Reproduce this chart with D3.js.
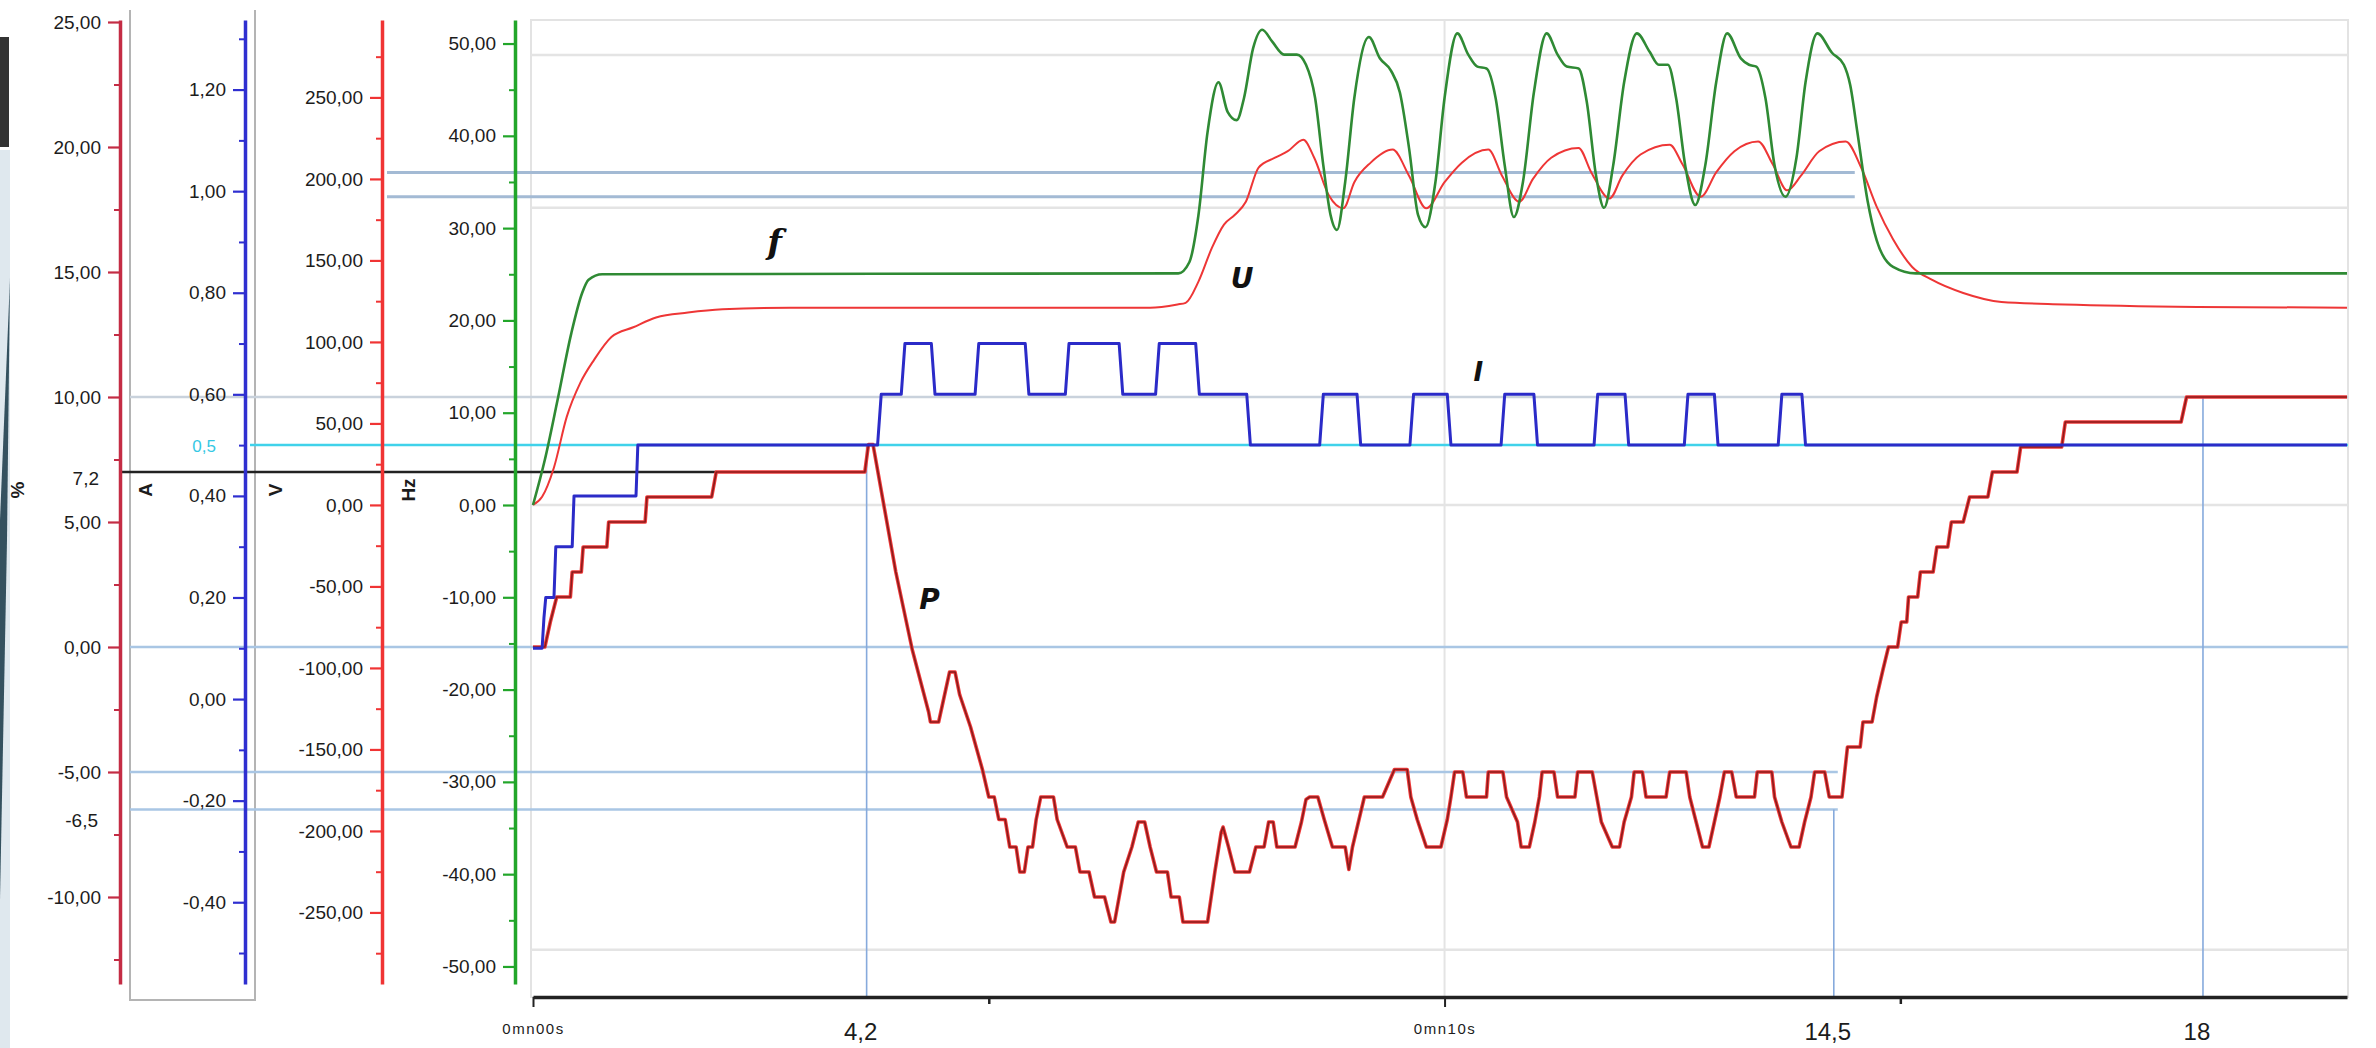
<!DOCTYPE html>
<html>
<head>
<meta charset="utf-8">
<script src="https://cdn.jsdelivr.net/npm/d3@7"></script>
<style>
  body { margin: 0; background: #fff; }
  svg { display: block; font-family: "Liberation Sans", Arial, sans-serif; }
</style>
</head>
<body>
<div id="chart-area"></div>
<script>
// ---- DATA ----
const kwTicks = [25, 20, 15, 10, 5, 0, -5, -10];
const ampTicks = [1.2, 1.0, 0.8, 0.6, 0.4, 0.2, 0, -0.2, -0.4];
const voltTicks = [250, 200, 150, 100, 50, 0, -50, -100, -150, -200, -250];
const hzTicks = [50, 40, 30, 20, 10, 0, -10, -20, -30, -40, -50];
const timeTicks = [0, 10];
const timeTickLabels = ["0mn00s", "0mn10s"];
const timeMinorTicks = [5, 15];

// f (Hz) - [time s, value]
const fSeries = [[0,0],[0.13,4.9],[0.27,11.4],[0.42,18.6],[0.54,23],[0.61,24.4],[0.76,25.0],[7.08,25.1],[7.2,26.3],[7.3,31.4],[7.4,40.4],[7.52,45.8],[7.62,42.6],[7.72,41.7],[7.8,44.1],[7.9,49.5],[8.0,51.5],[8.11,50.2],[8.24,48.8],[8.38,48.8],[8.48,47.7],[8.58,44.1],[8.67,36.8],[8.75,31.4],[8.82,29.8],[8.91,35],[9.01,44.1],[9.17,50.7],[9.29,48.4],[9.41,47.1],[9.51,44.7],[9.61,38.7],[9.71,31.4],[9.79,30.1],[9.9,35],[10.0,44.1],[10.14,51.1],[10.26,48.8],[10.36,47.5],[10.46,47.3],[10.56,44.1],[10.66,36.8],[10.76,31.2],[10.86,35],[10.98,44.7],[11.12,51.1],[11.24,48.8],[11.34,47.5],[11.47,47.3],[11.56,43.7],[11.66,35.8],[11.75,32.2],[11.85,36.8],[11.97,45.8],[12.11,51.1],[12.25,49.1],[12.35,47.7],[12.45,47.7],[12.54,44.1],[12.64,36.8],[12.75,32.5],[12.86,36.8],[12.98,45.8],[13.1,51.1],[13.25,48.4],[13.34,47.7],[13.42,47.5],[13.52,44.1],[13.62,36.8],[13.74,33.4],[13.86,37.6],[13.96,45.8],[14.09,51.1],[14.25,49],[14.38,47.7],[14.45,45.5],[14.53,40.3],[14.64,33],[14.74,28.7],[14.92,25.8],[15.17,25.1],[19.9,25.1]];

// U (V)
const uSeries = [[0,0],[0.1,5],[0.23,23],[0.37,54],[0.52,75],[0.67,89],[0.86,103],[1.1,109],[1.35,115],[1.7,118],[2.08,120],[2.82,121],[6.77,121],[7.07,123],[7.16,124],[7.3,137],[7.45,158],[7.58,172],[7.7,178],[7.82,186],[7.96,207],[8.14,213],[8.28,217],[8.45,224],[8.57,213],[8.73,190],[8.89,182],[9.01,198],[9.19,210],[9.43,218],[9.61,202],[9.8,182],[10.0,198],[10.19,210],[10.48,218],[10.63,202],[10.82,186],[10.97,200],[11.17,213],[11.47,219],[11.61,204],[11.81,188],[11.95,202],[12.15,215],[12.47,221],[12.61,209],[12.81,189],[12.98,204],[13.18,217],[13.44,223],[13.6,209],[13.76,193],[13.91,202],[14.11,217],[14.4,223],[14.57,207],[14.74,183],[14.92,163],[15.13,146],[15.35,138],[15.69,130],[16.11,124.5],[16.8,123],[18.26,121.5],[19.9,121]];

// I (A)
const iSeries = [[0,0.1],[0.1,0.1],[0.12,0.16],[0.14,0.2],[0.23,0.2],[0.25,0.3],[0.43,0.3],[0.45,0.4],[1.13,0.4],[1.15,0.5],[3.78,0.5],[3.82,0.6],[4.04,0.6],[4.08,0.7],[4.37,0.7],[4.41,0.6],[4.85,0.6],[4.89,0.7],[5.4,0.7],[5.44,0.6],[5.84,0.6],[5.88,0.7],[6.43,0.7],[6.47,0.6],[6.83,0.6],[6.87,0.7],[7.27,0.7],[7.31,0.6],[7.83,0.6],[7.87,0.5],[8.63,0.5],[8.67,0.6],[9.04,0.6],[9.08,0.5],[9.62,0.5],[9.66,0.6],[10.03,0.6],[10.07,0.5],[10.62,0.5],[10.66,0.6],[10.98,0.6],[11.02,0.5],[11.64,0.5],[11.68,0.6],[11.98,0.6],[12.02,0.5],[12.63,0.5],[12.67,0.6],[12.96,0.6],[13.0,0.5],[13.66,0.5],[13.7,0.6],[13.92,0.6],[13.96,0.5],[19.9,0.5]];

// P (left-most scale)
const pSeries = [[0,0],[0.13,0],[0.19,1],[0.26,2],[0.41,2],[0.43,3],[0.53,3],[0.55,4],[0.81,4],[0.83,5],[1.23,5],[1.25,6],[1.96,6],[2.01,7],[3.64,7],[3.68,8.1],[3.73,8.1],[3.98,3.0],[4.16,-0.1],[4.34,-2.6],[4.36,-3],[4.45,-3],[4.57,-1],[4.63,-1],[4.68,-1.9],[4.8,-3.2],[4.93,-4.9],[5.0,-6],[5.06,-6],[5.11,-6.9],[5.18,-6.9],[5.23,-8],[5.3,-8],[5.34,-9],[5.39,-9],[5.43,-8],[5.48,-8],[5.52,-6.9],[5.57,-6],[5.71,-6],[5.75,-6.9],[5.86,-8],[5.95,-8],[6.0,-9],[6.1,-9],[6.16,-10],[6.27,-10],[6.34,-11],[6.38,-11],[6.48,-9],[6.57,-8],[6.64,-7],[6.71,-7],[6.77,-8],[6.84,-9],[6.96,-9],[7.0,-10],[7.09,-10],[7.13,-11],[7.4,-11],[7.48,-9],[7.55,-7.4],[7.57,-7.2],[7.63,-8],[7.7,-9],[7.86,-9],[7.93,-8],[8.02,-8],[8.07,-7],[8.12,-7],[8.16,-8],[8.36,-8],[8.43,-7],[8.48,-6.1],[8.52,-6],[8.61,-6],[8.68,-6.9],[8.77,-8],[8.91,-8],[8.95,-8.9],[8.99,-8],[9.12,-6],[9.32,-6],[9.45,-4.9],[9.59,-4.9],[9.63,-6],[9.7,-6.9],[9.8,-8],[9.96,-8],[10.03,-6.9],[10.07,-6],[10.11,-5],[10.2,-5],[10.24,-6],[10.46,-6],[10.48,-5],[10.64,-5],[10.68,-6],[10.8,-7],[10.84,-8],[10.93,-8],[10.99,-7],[11.04,-6],[11.07,-5],[11.2,-5],[11.24,-6],[11.43,-6],[11.46,-5],[11.62,-5],[11.67,-6],[11.72,-7],[11.84,-8],[11.92,-8],[11.97,-7],[12.05,-6],[12.08,-5],[12.17,-5],[12.21,-6],[12.43,-6],[12.47,-5],[12.65,-5],[12.69,-6],[12.76,-7],[12.83,-8],[12.9,-8],[12.96,-7],[13.02,-6],[13.07,-5],[13.15,-5],[13.2,-6],[13.4,-6],[13.43,-5],[13.59,-5],[13.62,-6],[13.7,-7],[13.8,-8],[13.89,-8],[13.95,-7],[14.02,-6],[14.06,-5],[14.17,-5],[14.22,-6],[14.36,-6],[14.42,-4],[14.56,-4],[14.59,-3],[14.69,-3],[14.74,-2],[14.81,-0.9],[14.87,0],[14.97,0],[15.01,1],[15.07,1],[15.09,2],[15.19,2],[15.22,3],[15.36,3],[15.4,4],[15.52,4],[15.56,5],[15.69,5],[15.76,6],[15.96,6],[16.01,7],[16.28,7],[16.32,8],[16.77,8],[16.81,9],[18.08,9],[18.14,10],[19.9,10]];

// reference lines drawn on the chart
const kwRefLines = [10, 0, -5, -6.5];
const kwBlackRef = 7.0;
const kwBlackLabel = "7,2";
const kwExtraLabel = "-6,5";
const voltRefLines = [204, 189];
const ampRef = 0.5;
const ampRefLabel = "0,5";
const markTimes = [3.66, 14.27, 18.32];
const markLabels = ["4,2", "14,5", "18"];
const markFromKw = [8.1, -6.5, 10];
const gridHz = [48.75, 32.2, 0, -48.2];
const gridTimes = [10];

// ---- LAYOUT ----
const W = 2376, H = 1048;
const yTop = 20, yBottom = 984, axisY = 997;
const plotLeft = 531, plotRight = 2348;

const svg = d3.select("#chart-area").append("svg")
    .attr("width", W).attr("height", H);

svg.append("rect").attr("width", W).attr("height", H).attr("fill", "#fff");

// left slide decoration
svg.append("rect").attr("x", 0).attr("y", 150).attr("width", 10).attr("height", H - 150).attr("fill", "#dfe8ee");
svg.append("path").attr("d", "M10,278 L0,520 L0,900 L7,540 Z").attr("fill", "#34515f");
svg.append("rect").attr("x", 0).attr("y", 37).attr("width", 9).attr("height", 110).attr("fill", "#333");

// scales
const x = d3.scaleLinear().domain([0, 19.9]).range([533, 2347]);
const yKw = d3.scaleLinear().domain([-13.48, 25.08]).range([yBottom, yTop]);
const yA = d3.scaleLinear().domain([-0.561, 1.337]).range([yBottom, yTop]);
const yV = d3.scaleLinear().domain([-293.9, 297.5]).range([yBottom, yTop]);
const yHz = d3.scaleLinear().domain([-51.9, 52.55]).range([yBottom, yTop]);

const loc = d3.formatLocale({ decimal: ",", thousands: "", grouping: [3], currency: ["", ""], minus: "-" });
const fmt2 = loc.format(".2f");

// plot frame + grid
svg.append("rect")
    .attr("x", plotLeft).attr("y", yTop).attr("width", plotRight - plotLeft).attr("height", axisY - yTop)
    .attr("fill", "none").attr("stroke", "#e3e3e3").attr("stroke-width", 2);

svg.selectAll(".grid-h").data(gridHz).enter().append("line")
    .attr("x1", plotLeft).attr("x2", plotRight)
    .attr("y1", d => yHz(d)).attr("y2", d => yHz(d))
    .attr("stroke", "#e4e4e4").attr("stroke-width", 2.5);

svg.selectAll(".grid-v").data(gridTimes).enter().append("line")
    .attr("x1", d => x(d)).attr("x2", d => x(d))
    .attr("y1", yTop).attr("y2", axisY)
    .attr("stroke", "#e4e4e4").attr("stroke-width", 2);

// box around the A axis
svg.append("path")
    .attr("d", "M130,10 L130,1000 L255,1000 L255,10")
    .attr("fill", "none").attr("stroke", "#b4b4b4").attr("stroke-width", 2);

// reference lines
svg.selectAll(".kw-ref").data(kwRefLines).enter().append("line")
    .attr("x1", 130)
    .attr("x2", d => (d < 0 ? x(markTimes[1]) + 4 : plotRight))
    .attr("y1", d => yKw(d)).attr("y2", d => yKw(d))
    .attr("stroke", d => (d === 10 ? "#c9d2dc" : "#a9c6e4")).attr("stroke-width", 2.5);

svg.selectAll(".v-ref").data(voltRefLines).enter().append("line")
    .attr("x1", 387).attr("x2", x(14.5))
    .attr("y1", d => yV(d)).attr("y2", d => yV(d))
    .attr("stroke", "#a3bad4").attr("stroke-width", 3);

svg.append("line")
    .attr("x1", 250).attr("x2", plotRight)
    .attr("y1", yA(ampRef)).attr("y2", yA(ampRef))
    .attr("stroke", "#40d2ea").attr("stroke-width", 2.5);

svg.append("line")
    .attr("x1", 120).attr("x2", x(2.01))
    .attr("y1", yKw(kwBlackRef)).attr("y2", yKw(kwBlackRef))
    .attr("stroke", "#222").attr("stroke-width", 2.5);

svg.selectAll(".mark").data(markTimes).enter().append("line")
    .attr("x1", d => x(d)).attr("x2", d => x(d))
    .attr("y1", (d, i) => yKw(markFromKw[i])).attr("y2", axisY)
    .attr("stroke", "#86aadc").attr("stroke-width", 1.6);

// series
const pLine = d3.line().x(d => x(d[0])).y(d => yKw(d[1]));
const iLine = d3.line().x(d => x(d[0])).y(d => yA(d[1]));
const uLine = d3.line().x(d => x(d[0])).y(d => yV(d[1])).curve(d3.curveMonotoneX);
const fLine = d3.line().x(d => x(d[0])).y(d => yHz(d[1])).curve(d3.curveMonotoneX);

svg.append("path").datum(pSeries).attr("d", pLine)
    .attr("fill", "none").attr("stroke", "#f03a3a").attr("stroke-width", 3.6).attr("stroke-linejoin", "round");
svg.append("path").datum(pSeries).attr("d", pLine)
    .attr("fill", "none").attr("stroke", "#8c1c1c").attr("stroke-width", 1.6).attr("stroke-linejoin", "round");

svg.append("path").datum(uSeries).attr("d", uLine)
    .attr("fill", "none").attr("stroke", "#ee3636").attr("stroke-width", 2);

svg.append("path").datum(fSeries).attr("d", fLine)
    .attr("fill", "none").attr("stroke", "#2f8a34").attr("stroke-width", 2.6);

svg.append("path").datum(iSeries).attr("d", iLine)
    .attr("fill", "none").attr("stroke", "#2b2bc8").attr("stroke-width", 3).attr("stroke-linejoin", "round");

// vertical axes
function drawAxis(xPos, scale, ticks, color, unit, unitX) {
    const step = Math.abs(ticks[0] - ticks[1]);
    const d0 = scale.domain();
    const minor = d3.range(Math.ceil(d0[0] / (step / 2)) * (step / 2), d0[1], step / 2)
        .filter(v => !ticks.some(t => Math.abs(t - v) < step / 10));

    const gm = svg.append("g").attr("transform", "translate(" + xPos + ",0)")
        .call(d3.axisLeft(scale).tickValues(minor).tickSize(6).tickSizeOuter(0).tickFormat(""));
    gm.select(".domain").remove();
    gm.selectAll("line").attr("stroke", color).attr("stroke-width", 2);

    const g = svg.append("g").attr("transform", "translate(" + xPos + ",0)")
        .call(d3.axisLeft(scale).tickValues(ticks).tickSize(12).tickSizeOuter(0).tickPadding(7).tickFormat(fmt2));
    g.select(".domain").attr("stroke", color).attr("stroke-width", 3.5);
    g.selectAll(".tick line").attr("stroke", color).attr("stroke-width", 2.2);
    g.selectAll("text")
        .attr("font-size", "19px").attr("fill", "#1c1c1c")
        .attr("font-family", "Liberation Sans, Arial, sans-serif");

    svg.append("text")
        .attr("transform", "translate(" + unitX + ",490) rotate(-90)")
        .attr("text-anchor", "middle").attr("dy", "0.35em")
        .attr("font-size", "19px").attr("font-weight", "bold").attr("fill", "#1c1c1c")
        .text(unit);
}

drawAxis(120, yKw, kwTicks, "#c42c44", "%", 17);
drawAxis(245, yA, ampTicks, "#2f2fd0", "A", 145);
drawAxis(382, yV, voltTicks, "#f03434", "V", 275);
drawAxis(515, yHz, hzTicks, "#22a62a", "Hz", 408);

// extra labels on the left axes
svg.append("text")
    .attr("x", 99).attr("y", yKw(kwBlackRef)).attr("dy", "0.7em")
    .attr("text-anchor", "end").attr("font-size", "19px").attr("fill", "#1c1c1c")
    .text(kwBlackLabel);
svg.append("text")
    .attr("x", 98).attr("y", yKw(-6.5)).attr("dy", "0.9em")
    .attr("text-anchor", "end").attr("font-size", "19px").attr("fill", "#1c1c1c")
    .text(kwExtraLabel);
svg.append("text")
    .attr("x", 216).attr("y", yA(ampRef)).attr("dy", "0.4em")
    .attr("text-anchor", "end").attr("font-size", "17px").attr("fill", "#35c8e4")
    .text(ampRefLabel);

// time axis
const gx = svg.append("g").attr("transform", "translate(0," + axisY + ")")
    .call(d3.axisBottom(x).tickValues(timeTicks).tickSize(10).tickSizeOuter(0)
        .tickFormat((d, i) => timeTickLabels[i]));
gx.select(".domain").attr("stroke", "#222").attr("stroke-width", 3.5);
gx.selectAll(".tick line").attr("stroke", "#222").attr("stroke-width", 2);
gx.selectAll("text").attr("y", 26).attr("font-size", "15px").attr("letter-spacing", "1.5px").attr("fill", "#1c1c1c");

const gxm = svg.append("g").attr("transform", "translate(0," + axisY + ")")
    .call(d3.axisBottom(x).tickValues(timeMinorTicks).tickSize(7).tickSizeOuter(0).tickFormat(""));
gxm.select(".domain").remove();
gxm.selectAll("line").attr("stroke", "#222").attr("stroke-width", 2.5);

svg.selectAll(".mark-label").data(markTimes).enter().append("text")
    .attr("x", d => x(d) - 6).attr("y", 1040)
    .attr("text-anchor", "middle").attr("font-size", "24px").attr("fill", "#1c1c1c")
    .text((d, i) => markLabels[i]);

// curve names
const curveNames = [
    { name: "f", x: x(2.65), y: yHz(28.5), size: 34, family: "DejaVu Serif" },
    { name: "U", x: x(7.78), y: yV(139), size: 28, family: "DejaVu Sans" },
    { name: "I", x: x(10.37), y: yA(0.644), size: 26, family: "DejaVu Sans" },
    { name: "P", x: x(4.35), y: yKw(1.9), size: 28, family: "DejaVu Sans" }
];
svg.selectAll(".cname").data(curveNames).enter().append("text")
    .attr("x", d => d.x).attr("y", d => d.y).attr("dy", "0.35em")
    .attr("text-anchor", "middle")
    .attr("font-family", d => d.family).attr("font-style", "italic").attr("font-weight", "bold")
    .attr("font-size", d => d.size + "px").attr("fill", "#111")
    .text(d => d.name);
</script>
</body>
</html>
